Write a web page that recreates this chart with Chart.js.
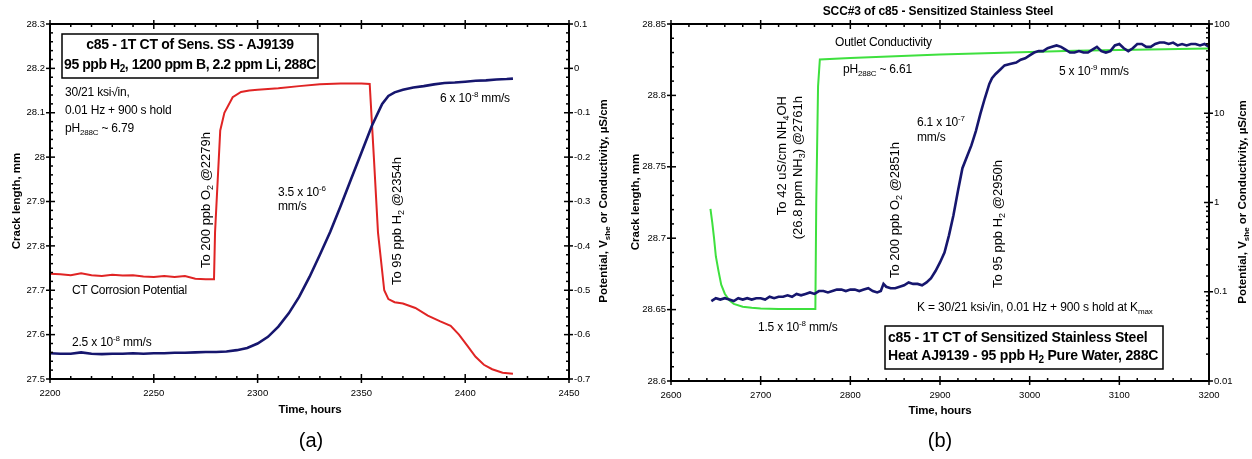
<!DOCTYPE html>
<html>
<head>
<meta charset="utf-8">
<script src="https://cdn.jsdelivr.net/npm/chart.js@4.4.1/dist/chart.umd.min.js"></script>
<style>
  body { margin: 0; background: #fff; }
  .panel { position: absolute; top: 0; width: 626px; height: 459px; }
</style>
</head>
<body>
<div class="panel" style="left:0"><canvas id="chartA" width="626" height="459"></canvas></div>
<div class="panel" style="left:626px"><canvas id="chartB" width="626" height="459"></canvas></div>
<script>
// Panel (a): crack length and corrosion potential, B/Li water
const crackTimeA = [2200, 2205, 2210, 2215, 2220, 2225, 2230, 2235, 2240, 2245, 2250, 2255, 2260, 2265, 2270, 2275, 2280, 2285, 2290, 2295, 2300, 2305, 2310, 2315, 2320, 2325, 2330, 2335, 2340, 2345, 2350, 2355, 2360, 2363, 2366, 2370, 2375, 2380, 2385, 2390, 2395, 2400, 2405, 2410, 2415, 2420, 2423];
const crackA = [27.558, 27.557, 27.557, 27.560, 27.557, 27.556, 27.557, 27.557, 27.558, 27.557, 27.558, 27.558, 27.559, 27.559, 27.560, 27.561, 27.561, 27.562, 27.565, 27.570, 27.580, 27.595, 27.618, 27.648, 27.685, 27.730, 27.780, 27.832, 27.890, 27.950, 28.010, 28.070, 28.120, 28.138, 28.146, 28.152, 28.157, 28.160, 28.164, 28.167, 28.168, 28.170, 28.172, 28.173, 28.175, 28.176, 28.177];

const potTimeA = [2200, 2205, 2210, 2215, 2220, 2225, 2230, 2235, 2240, 2245, 2250, 2255, 2260, 2265, 2270, 2275, 2279, 2279.5, 2282, 2284, 2288, 2292, 2296, 2300, 2310, 2320, 2330, 2340, 2350, 2354, 2356, 2358, 2361, 2363, 2366, 2370, 2376, 2382, 2388, 2393, 2397, 2401, 2405, 2409, 2413, 2418, 2423];
const potentialA = [-0.463, -0.464, -0.466, -0.462, -0.466, -0.468, -0.465, -0.467, -0.466, -0.469, -0.470, -0.468, -0.470, -0.468, -0.474, -0.475, -0.475, -0.370, -0.140, -0.100, -0.065, -0.053, -0.050, -0.048, -0.045, -0.040, -0.036, -0.034, -0.034, -0.035, -0.200, -0.370, -0.500, -0.520, -0.527, -0.530, -0.540, -0.557, -0.570, -0.580, -0.600, -0.625, -0.650, -0.668, -0.678, -0.686, -0.688];

// Panel (b): crack length and outlet conductivity, pure water
const crackTimeB = [2645, 2650, 2655, 2660, 2665, 2670, 2675, 2680, 2685, 2690, 2695, 2700, 2705, 2710, 2715, 2720, 2725, 2730, 2735, 2740, 2745, 2750, 2755, 2760, 2765, 2770, 2775, 2780, 2785, 2790, 2795, 2800, 2805, 2810, 2815, 2820, 2825, 2830, 2834, 2837, 2840, 2845, 2850, 2855, 2860, 2865, 2870, 2875, 2880, 2885, 2890, 2895, 2900, 2905, 2910, 2915, 2920, 2925, 2930, 2935, 2940, 2945, 2950, 2955, 2958, 2962, 2967, 2972, 2978, 2985, 2990, 2995, 3000, 3005, 3010, 3015, 3020, 3025, 3030, 3035, 3040, 3045, 3050, 3055, 3060, 3065, 3070, 3075, 3080, 3085, 3090, 3095, 3100, 3105, 3110, 3115, 3120, 3125, 3130, 3135, 3140, 3145, 3150, 3155, 3160, 3165, 3170, 3175, 3180, 3185, 3190, 3195, 3200];
const crackB = [28.656, 28.658, 28.657, 28.658, 28.657, 28.656, 28.658, 28.657, 28.658, 28.657, 28.658, 28.658, 28.657, 28.659, 28.658, 28.659, 28.659, 28.660, 28.659, 28.661, 28.660, 28.661, 28.662, 28.661, 28.663, 28.663, 28.662, 28.663, 28.664, 28.664, 28.663, 28.664, 28.664, 28.663, 28.664, 28.665, 28.663, 28.662, 28.663, 28.668, 28.666, 28.665, 28.665, 28.666, 28.667, 28.669, 28.668, 28.668, 28.667, 28.669, 28.672, 28.677, 28.683, 28.690, 28.702, 28.716, 28.733, 28.749, 28.757, 28.765, 28.775, 28.787, 28.798, 28.808, 28.812, 28.815, 28.818, 28.821, 28.822, 28.823, 28.825, 28.826, 28.828, 28.830, 28.831, 28.831, 28.833, 28.834, 28.835, 28.834, 28.832, 28.830, 28.830, 28.831, 28.830, 28.830, 28.832, 28.834, 28.831, 28.830, 28.831, 28.835, 28.836, 28.833, 28.831, 28.833, 28.836, 28.836, 28.834, 28.834, 28.836, 28.837, 28.837, 28.836, 28.837, 28.835, 28.836, 28.835, 28.836, 28.836, 28.835, 28.836, 28.834];

const condTimeB = [2644, 2646, 2648, 2650, 2653, 2656, 2660, 2665, 2670, 2680, 2690, 2700, 2720, 2740, 2761, 2762, 2764, 2766, 2800, 2850, 2900, 2950, 3000, 3050, 3100, 3150, 3200];
const conductivityB = [0.85, 0.6, 0.4, 0.25, 0.17, 0.12, 0.095, 0.08, 0.073, 0.068, 0.066, 0.065, 0.064, 0.064, 0.064, 1.0, 20, 40, 41.5, 43.5, 45.5, 47, 48.5, 50, 51, 52, 53];

const NAVY = '#16166e';
const RED = '#e02424';
const GREEN = '#3ee03e';
const FAMILY = "'Liberation Sans', Arial, sans-serif";

const pairs = (xs, ys) => xs.map((x, i) => ({ x, y: ys[i] }));
const trim = v => String(parseFloat(v.toFixed(3)));

// text with optional sub/superscript runs: parts are strings or [text, 'sub'|'sup']
function drawRich(ctx, item) {
  const size = item.size || 12;
  const weight = item.bold ? 'bold ' : '';
  const parts = item.text.map(p => (typeof p === 'string' ? [p, ''] : p));
  const fontFor = m => weight + (m ? Math.round(size * 0.68) : size) + 'px ' + FAMILY;
  ctx.save();
  ctx.letterSpacing = (item.spacing || 0) + 'px';
  let total = 0;
  parts.forEach(([t, m]) => { ctx.font = fontFor(m); total += ctx.measureText(t).width; });
  ctx.translate(item.x, item.y);
  if (item.rotate) ctx.rotate(-Math.PI / 2);
  let x = item.align === 'center' ? -total / 2 : item.align === 'right' ? -total : 0;
  ctx.textAlign = 'left';
  ctx.textBaseline = 'middle';
  ctx.fillStyle = item.color || '#000';
  parts.forEach(([t, m]) => {
    ctx.font = fontFor(m);
    const dy = m === 'sub' ? size * 0.32 : m === 'sup' ? -size * 0.38 : 0;
    ctx.fillText(t, x, dy);
    x += ctx.measureText(t).width;
  });
  ctx.restore();
}

// box frame plus inward minor ticks and crossing major ticks on every side
const frameTicks = {
  id: 'frameTicks',
  afterDatasetsDraw(chart, args, opts) {
    const { ctx, chartArea: a, scales } = chart;
    ctx.save();
    ctx.strokeStyle = '#000';
    ctx.lineWidth = 1.5;
    const tick = (x1, y1, x2, y2) => { ctx.beginPath(); ctx.moveTo(x1, y1); ctx.lineTo(x2, y2); ctx.stroke(); };

    const xs = scales.x;
    for (let v = xs.min; v <= xs.max + 1e-9; v += opts.xMinor) {
      const px = xs.getPixelForValue(v);
      const major = Math.abs((v - xs.min) / opts.xMajor - Math.round((v - xs.min) / opts.xMajor)) < 1e-6;
      if (major) {
        tick(px, a.bottom + 4, px, a.bottom - 5);
        tick(px, a.top - 4, px, a.top + 5);
      } else {
        tick(px, a.bottom, px, a.bottom - 3);
        tick(px, a.top, px, a.top + 3);
      }
    }

    const ys = scales.y;
    for (let v = ys.min; v <= ys.max + 1e-9; v += opts.yMinor) {
      const py = ys.getPixelForValue(v);
      const major = Math.abs((v - ys.min) / opts.yMajor - Math.round((v - ys.min) / opts.yMajor)) < 1e-6;
      if (major) tick(a.left - 4, py, a.left + 5, py);
      else tick(a.left, py, a.left + 3, py);
    }

    const rs = scales.y1;
    if (rs.type === 'logarithmic') {
      rs.ticks.forEach(t => {
        const py = rs.getPixelForValue(t.value);
        const lg = Math.log10(t.value);
        if (Math.abs(lg - Math.round(lg)) < 1e-6) tick(a.right + 4, py, a.right - 5, py);
        else tick(a.right, py, a.right - 3, py);
      });
    } else {
      for (let v = rs.min; v <= rs.max + 1e-9; v += opts.yMinor) {
        const py = rs.getPixelForValue(v);
        const major = Math.abs((v - rs.min) / opts.yMajor - Math.round((v - rs.min) / opts.yMajor)) < 1e-6;
        if (major) tick(a.right + 4, py, a.right - 5, py);
        else tick(a.right, py, a.right - 3, py);
      }
    }

    ctx.lineWidth = 2;
    ctx.strokeRect(a.left, a.top, a.width, a.height);
    ctx.restore();
  }
};

// text annotations, boxed notes and axis titles
const notes = {
  id: 'notes',
  afterDraw(chart, args, opts) {
    const ctx = chart.ctx;
    (opts.boxes || []).forEach(b => {
      ctx.save();
      ctx.fillStyle = '#fff';
      ctx.fillRect(b.x, b.y, b.w, b.h);
      ctx.strokeStyle = '#000';
      ctx.lineWidth = 1.5;
      ctx.strokeRect(b.x, b.y, b.w, b.h);
      ctx.restore();
    });
    (opts.items || []).forEach(item => drawRich(ctx, item));
  }
};

function axisBase(extra) {
  return Object.assign({
    type: 'linear',
    grid: { display: false, drawTicks: false },
    border: { display: false },
    ticks: { color: '#000', font: { family: FAMILY, size: 9.5 }, padding: 5, callback: v => trim(v) }
  }, extra);
}

const rightTitle = ['Potential, V', ['she', 'sub'], ' or Conductivity, \u00b5S/cm'];

new Chart(document.getElementById('chartA'), {
  type: 'line',
  data: {
    datasets: [
      { label: 'Crack length', data: pairs(crackTimeA, crackA), yAxisID: 'y', borderColor: NAVY, borderWidth: 2.6, pointRadius: 0 },
      { label: 'CT Corrosion Potential', data: pairs(potTimeA, potentialA), yAxisID: 'y1', borderColor: RED, borderWidth: 2, pointRadius: 0 }
    ]
  },
  options: {
    responsive: false,
    animation: false,
    layout: { padding: { top: 24, left: 0, right: 0, bottom: 0 } },
    plugins: {
      legend: { display: false },
      tooltip: { enabled: false },
      frameTicks: { xMajor: 50, xMinor: 10, yMajor: 0.1, yMinor: 0.02 },
      notes: {
        boxes: [{ x: 62, y: 34, w: 256, h: 44 }],
        items: [
          { x: 190, y: 45, text: ['c85 - 1T CT of Sens. SS - AJ9139'], size: 14, bold: true, align: 'center', spacing: -0.3 },
          { x: 190, y: 65, text: ['95 ppb H', ['2', 'sub'], ', 1200 ppm B, 2.2 ppm Li, 288C'], size: 14, bold: true, align: 'center', spacing: -0.45 },
          { x: 65, y: 93, text: ['30/21 ksi\u221ain,'], size: 12, spacing: -0.2 },
          { x: 65, y: 111, text: ['0.01 Hz + 900 s hold'], size: 12, spacing: -0.2 },
          { x: 65, y: 129, text: ['pH', ['288C', 'sub'], ' ~ 6.79'], size: 12, spacing: -0.2 },
          { x: 206, y: 268, text: ['To 200 ppb O', ['2', 'sub'], ' @2279h'], size: 13, rotate: true },
          { x: 278, y: 193, text: ['3.5 x 10', ['-6', 'sup']], size: 12, spacing: -0.2 },
          { x: 278, y: 207, text: ['mm/s'], size: 12, spacing: -0.2 },
          { x: 397, y: 285, text: ['To 95 ppb H', ['2', 'sub'], ' @2354h'], size: 13, rotate: true },
          { x: 440, y: 99, text: ['6 x 10', ['-8', 'sup'], ' mm/s'], size: 12, spacing: -0.2 },
          { x: 72, y: 291, text: ['CT Corrosion Potential'], size: 12, spacing: -0.3 },
          { x: 72, y: 343, text: ['2.5 x 10', ['-8', 'sup'], ' mm/s'], size: 12, spacing: -0.2 },
          { x: 17, y: 201, text: ['Crack length, mm'], size: 11.5, bold: true, rotate: true, align: 'center' },
          { x: 604, y: 201, text: rightTitle, size: 11.5, bold: true, rotate: true, align: 'center' },
          { x: 310, y: 410, text: ['Time, hours'], size: 11.5, bold: true, align: 'center', spacing: -0.2 },
          { x: 311, y: 441, text: ['(a)'], size: 20, align: 'center' }
        ]
      }
    },
    scales: {
      x: axisBase({ min: 2200, max: 2450, ticks: { color: '#000', font: { family: FAMILY, size: 9.5 }, padding: 9, stepSize: 50, maxRotation: 0, callback: v => trim(v) }, afterFit: s => { s.height = 80; } }),
      y: axisBase({ min: 27.5, max: 28.3, ticks: { color: '#000', font: { family: FAMILY, size: 9.5 }, padding: 5, stepSize: 0.1, callback: v => trim(v) }, afterFit: s => { s.width = 50; } }),
      y1: axisBase({ position: 'right', min: -0.7, max: 0.1, ticks: { color: '#000', font: { family: FAMILY, size: 9.5 }, padding: 5, stepSize: 0.1, callback: v => trim(v) }, afterFit: s => { s.width = 57; } })
    }
  },
  plugins: [frameTicks, notes]
});

new Chart(document.getElementById('chartB'), {
  type: 'line',
  data: {
    datasets: [
      { label: 'Crack length', data: pairs(crackTimeB, crackB), yAxisID: 'y', borderColor: NAVY, borderWidth: 2.6, pointRadius: 0 },
      { label: 'Outlet Conductivity', data: pairs(condTimeB, conductivityB), yAxisID: 'y1', borderColor: GREEN, borderWidth: 2, pointRadius: 0 }
    ]
  },
  options: {
    responsive: false,
    animation: false,
    layout: { padding: { top: 24, left: 0, right: 0, bottom: 0 } },
    plugins: {
      legend: { display: false },
      tooltip: { enabled: false },
      frameTicks: { xMajor: 100, xMinor: 20, yMajor: 0.05, yMinor: 0.01 },
      notes: {
        boxes: [{ x: 259, y: 326, w: 278, h: 43 }],
        items: [
          { x: 312, y: 12, text: ['SCC#3 of c85 - Sensitized Stainless Steel'], size: 12, bold: true, align: 'center', spacing: -0.1 },
          { x: 209, y: 43, text: ['Outlet Conductivity'], size: 12, spacing: -0.2 },
          { x: 217, y: 70, text: ['pH', ['288C', 'sub'], ' ~ 6.61'], size: 12, spacing: -0.2 },
          { x: 156, y: 96, text: ['To 42 uS/cm NH', ['4', 'sub'], 'OH'], size: 13, rotate: true, align: 'right' },
          { x: 172, y: 96, text: ['(26.8 ppm NH', ['3', 'sub'], ') @2761h'], size: 13, rotate: true, align: 'right' },
          { x: 269, y: 278, text: ['To 200 ppb O', ['2', 'sub'], ' @2851h'], size: 13, rotate: true },
          { x: 291, y: 123, text: ['6.1 x 10', ['-7', 'sup']], size: 12, spacing: -0.2 },
          { x: 291, y: 138, text: ['mm/s'], size: 12, spacing: -0.2 },
          { x: 433, y: 72, text: ['5 x 10', ['-9', 'sup'], ' mm/s'], size: 12, spacing: -0.2 },
          { x: 372, y: 288, text: ['To 95 ppb H', ['2', 'sub'], ' @2950h'], size: 13, rotate: true },
          { x: 291, y: 308, text: ['K = 30/21 ksi\u221ain, 0.01 Hz + 900 s hold at K', ['max', 'sub']], size: 12, spacing: -0.15 },
          { x: 262, y: 338, text: ['c85 - 1T CT of Sensitized Stainless Steel'], size: 14, bold: true, spacing: -0.2 },
          { x: 262, y: 356, text: ['Heat AJ9139 - 95 ppb H', ['2', 'sub'], ' Pure Water, 288C'], size: 14, bold: true, spacing: -0.2 },
          { x: 132, y: 328, text: ['1.5 x 10', ['-8', 'sup'], ' mm/s'], size: 12, spacing: -0.2 },
          { x: 10, y: 202, text: ['Crack length, mm'], size: 11.5, bold: true, rotate: true, align: 'center' },
          { x: 617, y: 202, text: rightTitle, size: 11.5, bold: true, rotate: true, align: 'center' },
          { x: 314, y: 411, text: ['Time, hours'], size: 11.5, bold: true, align: 'center', spacing: -0.2 },
          { x: 314, y: 441, text: ['(b)'], size: 20, align: 'center' }
        ]
      }
    },
    scales: {
      x: axisBase({ min: 2600, max: 3200, ticks: { color: '#000', font: { family: FAMILY, size: 9.5 }, padding: 9, stepSize: 100, maxRotation: 0, callback: v => trim(v) }, afterFit: s => { s.height = 78; } }),
      y: axisBase({ min: 28.6, max: 28.85, ticks: { color: '#000', font: { family: FAMILY, size: 9.5 }, padding: 5, stepSize: 0.05, callback: v => trim(v) }, afterFit: s => { s.width = 45; } }),
      y1: {
        type: 'logarithmic',
        position: 'right',
        min: 0.01,
        max: 100,
        grid: { display: false, drawTicks: false },
        border: { display: false },
        ticks: {
          color: '#000',
          font: { family: FAMILY, size: 9.5 },
          padding: 5,
          autoSkip: false,
          callback: v => {
            const lg = Math.log10(v);
            return Math.abs(lg - Math.round(lg)) < 1e-6 ? trim(v) : '';
          }
        },
        afterFit: s => { s.width = 43; }
      }
    }
  },
  plugins: [frameTicks, notes]
});
</script>
</body>
</html>
